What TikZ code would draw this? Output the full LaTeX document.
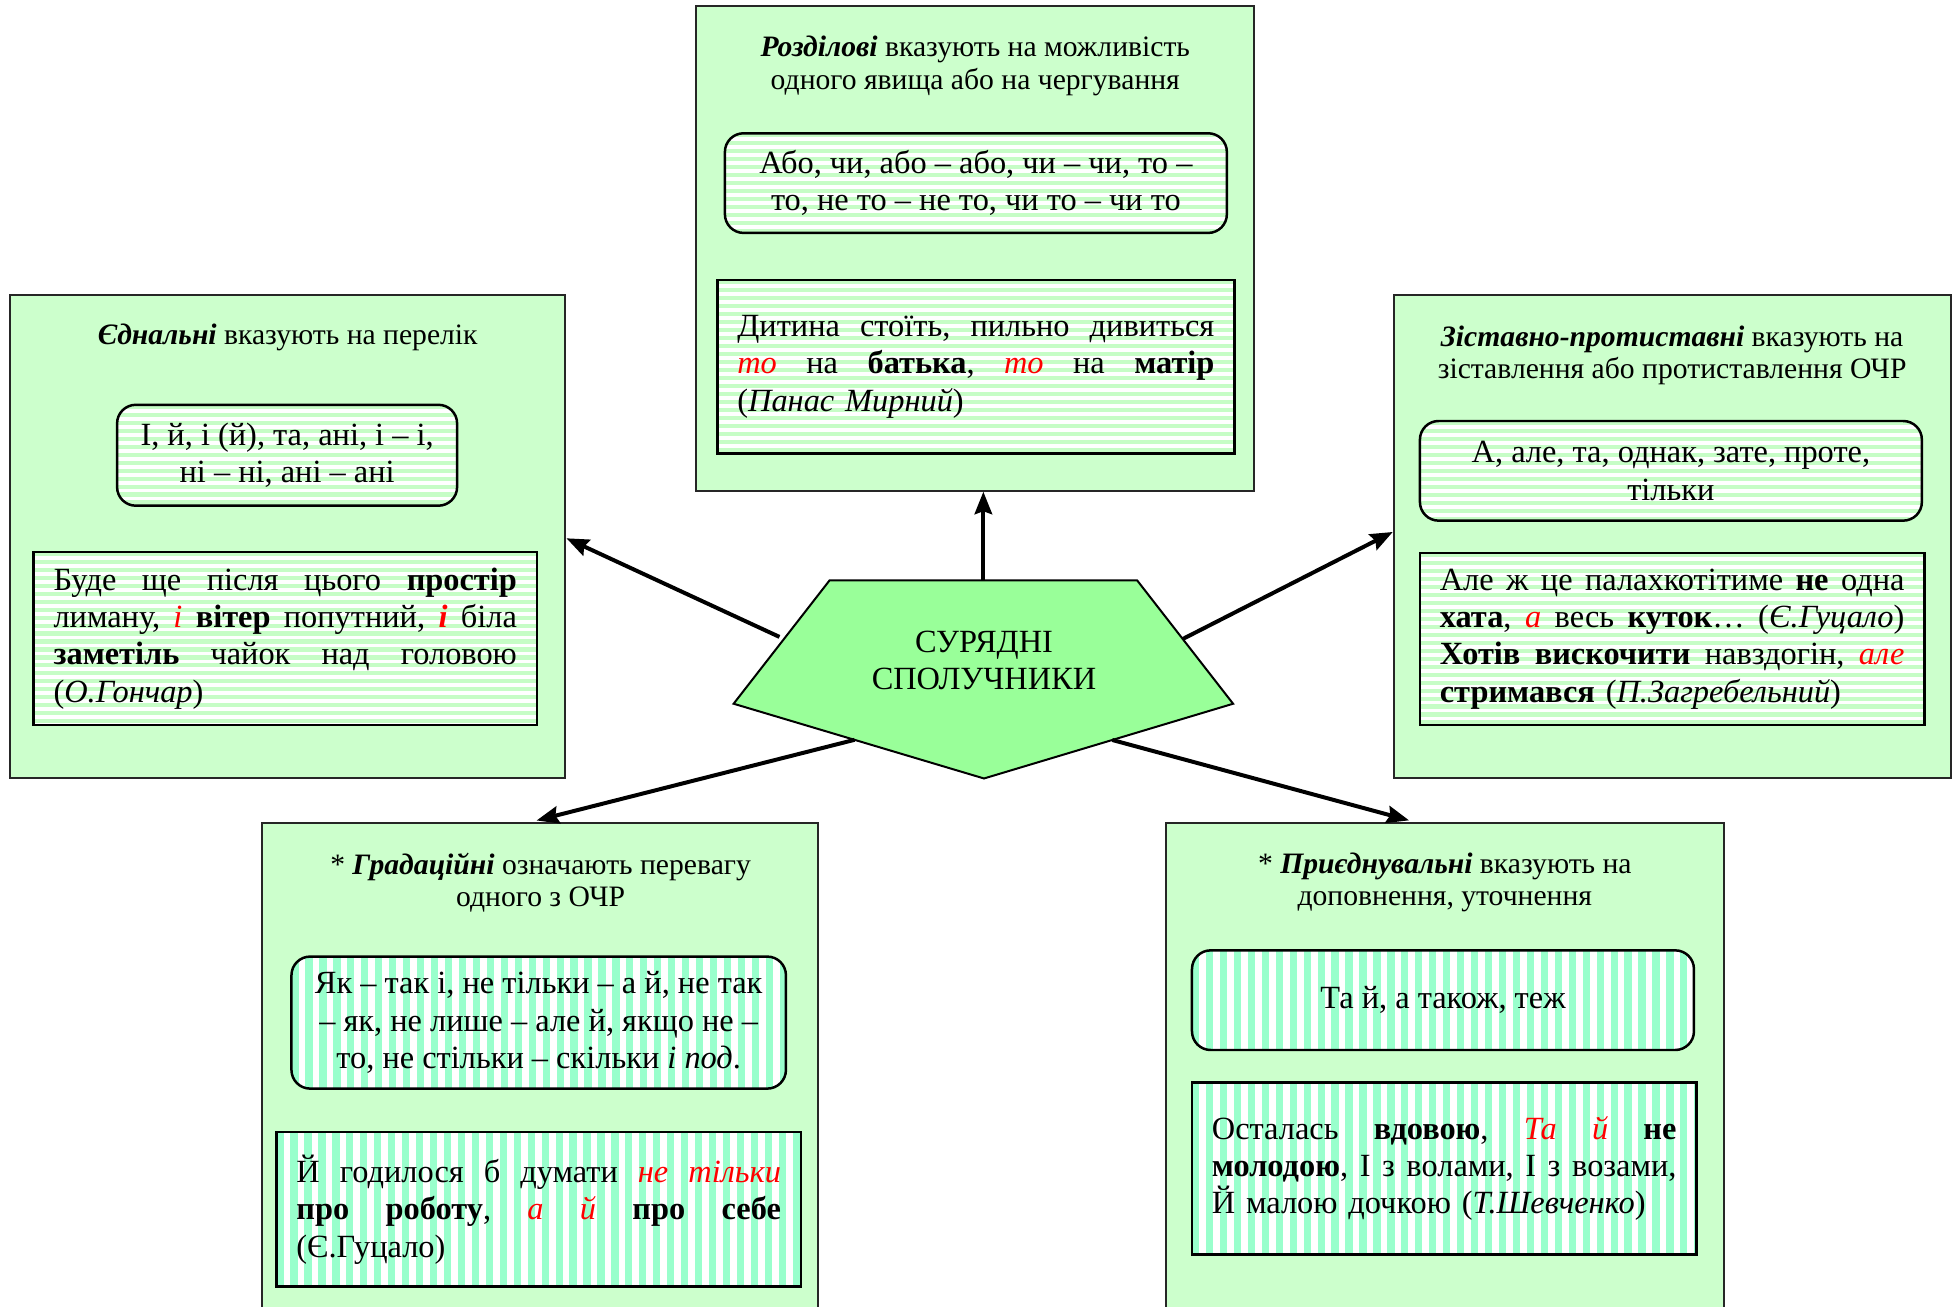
\documentclass[tikz,border=0pt]{standalone}
\usepackage{fontspec}
\setmainfont{Liberation Serif}
\usetikzlibrary{arrows.meta,fit,calc}

\definecolor{panelgreen}{HTML}{CCFFCC}
\definecolor{stripegreen}{HTML}{C6FDC6}
\definecolor{stripemint}{HTML}{99FFCC}
\definecolor{hubgreen}{HTML}{99FF99}
\definecolor{exred}{HTML}{FF0000}

% one justified line of an example: words are separated by \gap
\newcommand\jline[2]{\leavevmode\hbox to #1{#2}\\}
\newcommand\gap{\hspace{0.25em plus 1fill}}
% highlighted conjunction inside an example
\newcommand\ex[1]{\textcolor{exred}{\textit{#1}}}

\tikzset{
  panel/.style={draw=black!85, line width=0.8pt, fill=panelgreen, inner sep=0pt},
  title/.style={align=center, inner sep=0pt, font=\fontsize{11.9}{13}\selectfont},
  hstr/.style={path picture={
      \foreach \k in {0,...,25}
        \fill[stripegreen, sharp corners] ([yshift=-\k*3.2pt]path picture bounding box.north west) rectangle ++(1000,3.3);}},
  vstr/.style={path picture={
      \foreach \k in {0,...,40}
        \fill[stripemint, sharp corners] ([xshift=\k*5.6pt]path picture bounding box.north west) rectangle ++(5.8,300);}},
  listbox/.style={draw, line width=1pt, fill=white, rounded corners=7.5pt, inner sep=0pt,
      align=center, font=\fontsize{13}{15}\selectfont},
  example/.style={draw, line width=1pt, fill=white, inner xsep=8pt, inner ysep=0pt,
      align=left, font=\fontsize{13}{15}\selectfont},
  hub/.style={draw=black, line width=0.8pt, fill=hubgreen},
  arr/.style={line width=1.6pt, -{Stealth[length=9pt,width=7pt,inset=1.2pt]}}
}

\begin{document}
\begin{tikzpicture}[x=0.5pt,y=-0.5pt]
\clip (0,0) rectangle (1568,1049);
\fill[white] (0,0) rectangle (1568,1049);

% category panels
\node[panel, fit={(8,237) (454,625)}] (edn) {};
\node[panel, fit={(559,5) (1007,394)}] (roz) {};
\node[panel, fit={(1119,237) (1566,625)}] (zis) {};
\node[panel, fit={(210,661) (657,1075)}] (grad) {};
\node[panel, fit={(936,661) (1384,1075)}] (pryj) {};

% panel headings
\node[title] (edn-t) at (231,271) {\textbf{\textit{Єднальні}} вказують на перелік};
\node[title] (roz-t) at (783,53) {\textbf{\textit{Розділові}} вказують на можливість\\одного явища або на чергування};
\node[title] (zis-t) at (1342.5,285.5) {\textbf{\textit{Зіставно-протиставні}} вказують на\\зіставлення або протиставлення ОЧР};
\node[title] (grad-t) at (434,708.5) {* \textbf{\textit{Градаційні}} означають перевагу\\одного з ОЧР};
\node[title] (pryj-t) at (1160,708.5) {* \textbf{\textit{Приєднувальні}} вказують на\\доповнення, уточнення};

% lists of conjunctions
\node[listbox, hstr, minimum width=136.5pt, minimum height=40.5pt] (edn-l) at (230.5,365.5)
  {І, й, і (й), та, ані, і – і,\\ні – ні, ані – ані};
\node[listbox, hstr, minimum width=201.5pt, minimum height=40pt] (roz-l) at (783.5,147)
  {Або, чи, або – або, чи – чи, то –\\то, не то – не то, чи то – чи то};
\node[listbox, hstr, minimum width=201.5pt, minimum height=40pt] (zis-l) at (1341.5,378)
  {А, але, та, однак, зате, проте,\\тільки};
\node[listbox, vstr, minimum width=198.5pt, minimum height=53pt] (grad-l) at (432.5,821)
  {Як – так і, не тільки – а й, не так\\– як, не лише – але й, якщо не –\\то, не стільки – скільки \textit{і под}.};
\node[listbox, vstr, minimum width=201.5pt, minimum height=40pt] (pryj-l) at (1158.5,803)
  {Та й, а також, теж};

% examples
\node[example, hstr, text width=186pt, minimum height=69.5pt] (edn-e) at (229,512.5)
  {\jline{186pt}{Буде\gap ще\gap після\gap цього\gap \textbf{простір}}%
   \jline{186pt}{лиману,\gap \ex{і}\gap \textbf{вітер}\gap попутний,\gap \ex{\textbf{і}}\gap біла}%
   \jline{186pt}{\textbf{заметіль}\gap чайок\gap над\gap головою}%
   (\textit{О.Гончар})};
\node[example, hstr, text width=191.5pt, minimum height=69.5pt] (roz-e) at (783.5,294.5)
  {\jline{191.5pt}{Дитина\gap стоїть,\gap пильно\gap дивиться}%
   \jline{191.5pt}{\ex{то}\gap на\gap \textbf{батька},\gap \ex{то}\gap на\gap \textbf{матір}}%
   (\textit{Панас Мирний})};
\node[example, hstr, text width=186.5pt, minimum height=69pt] (zis-e) at (1342.5,513)
  {\jline{186.5pt}{Але\gap ж\gap це\gap палахкотітиме\gap \textbf{не}\gap одна}%
   \jline{186.5pt}{\textbf{хата},\gap \ex{а}\gap весь\gap \textbf{куток}…\gap (\textit{Є.Гуцало})}%
   \jline{186.5pt}{\textbf{Хотів}\gap \textbf{вискочити}\gap навздогін,\gap \ex{але}}%
   \textbf{стримався} (\textit{П.Загребельний})};
\node[example, vstr, text width=194.5pt, minimum height=62pt] (grad-e) at (432.5,971)
  {\jline{194.5pt}{Й\gap годилося\gap б\gap думати\gap \ex{не}\gap \ex{тільки}}%
   \jline{194.5pt}{\textbf{про}\gap \textbf{роботу},\gap \ex{а}\gap \ex{й}\gap \textbf{про}\gap \textbf{себе}}%
   (Є.Гуцало)};
\node[example, vstr, text width=186.5pt, minimum height=69pt] (pryj-e) at (1159.5,938)
  {\jline{186.5pt}{Осталась\gap \textbf{вдовою},\gap \ex{Та}\gap \ex{й}\gap \textbf{не}}%
   \jline{186.5pt}{\textbf{молодою},\gap І\gap з\gap волами,\gap І\gap з\gap возами,}%
   Й малою дочкою (\textit{Т.Шевченко})};

% central pentagon
\coordinate (pTL) at (666,466);
\coordinate (pTR) at (913,466);
\coordinate (pR) at (990,565);
\coordinate (pB) at (790,625);
\coordinate (pL) at (589,565);
\draw[hub] (pTL) -- (pTR) -- (pR) -- (pB) -- (pL) -- cycle;
\node[align=center, inner sep=0pt, font=\fontsize{13}{15}\selectfont] (hubtext) at (790,530)
  {СУРЯДНІ\\СПОЛУЧНИКИ};

% connectors
\coordinate (hubTop) at ($(pTL)!0.5!(pTR)$);
\coordinate (hubWL) at ($(pTL)!0.475!(pL)$);
\coordinate (hubWR) at ($(pTR)!0.475!(pR)$);
\coordinate (hubSL) at ($(pL)!0.483!(pB)$);
\coordinate (hubSR) at ($(pB)!0.515!(pR)$);
\coordinate (ednIn) at ($(edn.north east)!0.503!(edn.south east)$);
\coordinate (zisIn) at ($(zis.north west)!0.49!(zis.south west)$);
\coordinate (gradIn) at ($(grad.north west)!0.481!(grad.north east)$);
\coordinate (pryjIn) at ($(pryj.north west)!0.449!(pryj.north east)$);

\draw[arr] (hubTop) -- (hubTop |- roz.south);
\draw[arr, shorten <=2pt] (hubWL) -- (ednIn);
\draw[arr] (hubWR) -- (zisIn);
\draw[arr, shorten >=3pt] (hubSL) -- (gradIn);
\draw[arr, shorten >=3pt] (hubSR) -- (pryjIn);
\end{tikzpicture}
\end{document}
